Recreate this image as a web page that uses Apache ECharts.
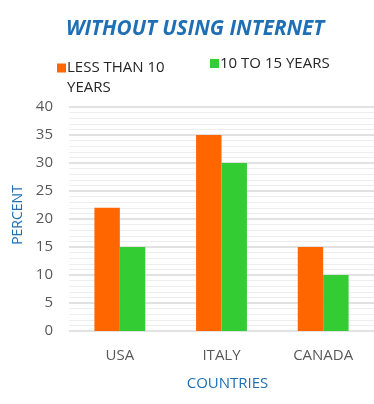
<!DOCTYPE html>
<html><head><meta charset="utf-8">
<script src="https://cdn.jsdelivr.net/npm/echarts@6/dist/echarts.min.js"></script>
<style>html,body{margin:0;padding:0;background:#fff}#c{width:374px;height:404px}</style>
</head><body><div id="c"></div>
<script>
const categories = ['USA', 'ITALY', 'CANADA'];
const lessThan10 = [22, 35, 15];
const tenTo15 = [15, 30, 10];
const seriesNames = ['LESS THAN 10 YEARS', '10 TO 15 YEARS'];
const yTicks = { min: 0, max: 40, interval: 5 };

const FONT = '"Open Sans", "Noto Sans", sans-serif';
const BLUE = '#1F6FB5';
const chart = echarts.init(document.getElementById('c'), null, { renderer: 'canvas' });
chart.setOption({
  backgroundColor: '#fff',
  animation: false,
  title: {
    text: 'WITHOUT USING INTERNET',
    left: 61, top: 14,
    textStyle: { color: BLUE, fontSize: 20.7, fontWeight: 'bold', fontStyle: 'italic', fontFamily: FONT }
  },
  legend: [
    {
      data: [seriesNames[0]], left: 52, top: 50, itemWidth: 9, itemHeight: 29,
      icon: 'path://M0 0h9v9h-9z M0 28.9h0.05v0.1h-0.05z',
      formatter: () => 'LESS THAN 10\nYEARS',
      textStyle: { fontSize: 15, color: '#262626', fontFamily: FONT, lineHeight: 20, padding: [0, 0, 6, -4] }
    },
    {
      data: [seriesNames[1]], left: 205, top: 51, itemWidth: 9, itemHeight: 9, icon: 'rect',
      textStyle: { fontSize: 15, color: '#262626', fontFamily: FONT, padding: [0, 0, 6, -4] }
    }
  ],
  grid: { left: 69, right: 0, top: 107, bottom: 73 },
  xAxis: {
    type: 'category', data: categories,
    axisLine: { show: false }, axisTick: { show: false },
    axisLabel: { color: '#595959', fontSize: 15, fontFamily: FONT, margin: 17 },
    name: 'COUNTRIES', nameLocation: 'middle', nameGap: 45,
    nameTextStyle: { color: BLUE, fontSize: 15, fontFamily: FONT, padding: [0, 0, 0, 12] }
  },
  yAxis: {
    type: 'value', min: yTicks.min, max: yTicks.max, interval: yTicks.interval,
    axisLabel: { color: '#595959', fontSize: 15, fontFamily: FONT, margin: 16 },
    splitLine: { lineStyle: { color: '#d9d9d9', width: 1.5 } },
    minorTick: { show: true, splitNumber: 5, lineStyle: { opacity: 0 } },
    minorSplitLine: { show: true, lineStyle: { color: '#eeeeee', width: 1 } },
    name: 'PERCENT', nameLocation: 'middle', nameRotate: 90, nameGap: 44,
    nameTextStyle: { color: BLUE, fontSize: 14, fontFamily: FONT, padding: [0, 0, 0, 8] }
  },
  series: [
    { name: seriesNames[0], type: 'bar', data: lessThan10, itemStyle: { color: '#FF6600' }, barGap: '0%', barCategoryGap: '50%' },
    { name: seriesNames[1], type: 'bar', data: tenTo15, itemStyle: { color: '#33CC33' }, barGap: '0%', barCategoryGap: '50%' }
  ]
});
</script></body></html>
